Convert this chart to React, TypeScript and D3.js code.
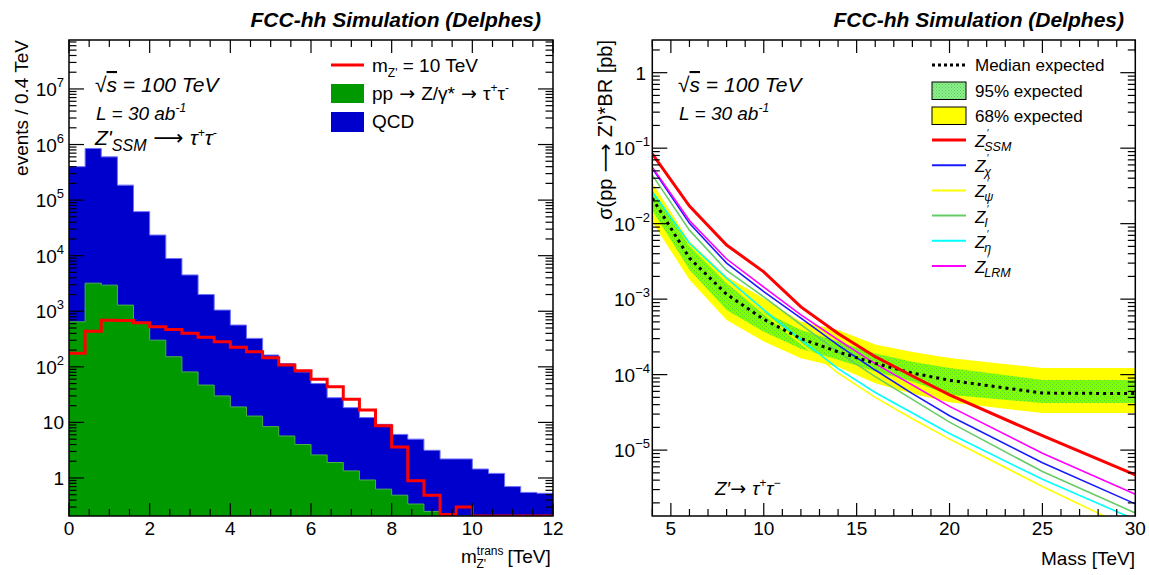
import React from 'react';
import * as d3 from 'd3';

const FONT = '"Liberation Sans", Arimo, Arial, Helvetica, sans-serif';
const ARROW_FONT = '"DejaVu Sans", sans-serif';

// ---------------- Left panel data ----------------
const binWidth = 0.4;
const binStarts = d3.range(30).map((i) => +(i * binWidth).toFixed(1));
const qcdEvents = [399000, 847000, 597000, 184700, 61400, 23200, 8750, 4420, 1950, 1020, 546, 312, 155, 109, 77, 47.4, 25.9, 17.1, 11.3, 8.6, 5.6, 4.66, 2.9, 2.2, 2.2, 1.45, 1.21, 0.7, 0.55, 0.53];
const dyEvents = [646, 3200, 2950, 1290, 630, 302, 152, 81, 47, 30, 19, 13, 8.4, 5.7, 4.0, 2.6, 1.9, 1.34, 0.92, 0.63, 0.49, 0.34, 0.25, 0, 0, 0, 0, 0, 0, 0];
const signalEvents = [175, 436, 690, 680, 620, 525, 470, 400, 340, 283, 225, 187, 145, 108, 85, 60, 44, 26, 16.7, 8.7, 3.6, 0.89, 0.49, 0.22, 0.3, 0, 0, 0, 0, 0];
const leftXTicks = [0, 2, 4, 6, 8, 10, 12];
const leftYLabels = [
  { v: 1, base: '1', exp: '' },
  { v: 10, base: '10', exp: '' },
  { v: 1e2, base: '10', exp: '2' },
  { v: 1e3, base: '10', exp: '3' },
  { v: 1e4, base: '10', exp: '4' },
  { v: 1e5, base: '10', exp: '5' },
  { v: 1e6, base: '10', exp: '6' },
  { v: 1e7, base: '10', exp: '7' },
];

// ---------------- Right panel data ----------------
const massPoints = [4, 6, 8, 10, 12, 14, 16, 18, 20, 25, 30];
const zSSM = [0.084, 0.0171, 0.0052, 0.0023, 7.9e-4, 3.5e-4, 1.73e-4, 9.6e-5, 5.4e-5, 1.55e-5, 4.7e-6];
const zChi = [0.054, 0.0101, 0.003, 0.00126, 5.6e-4, 2.46e-4, 1.15e-4, 5.6e-5, 2.85e-5, 6.8e-6, 1.94e-6];
const zPsi = [0.03, 0.0052, 0.0017, 6.5e-4, 2.6e-4, 1.05e-4, 5.0e-5, 2.6e-5, 1.4e-5, 3.3e-6, 8.5e-7];
const zI = [0.044, 0.0082, 0.0024, 0.00107, 4.6e-4, 2.0e-4, 9.4e-5, 4.7e-5, 2.35e-5, 5.2e-6, 1.47e-6];
const zEta = [0.0265, 0.0055, 0.0019, 7.2e-4, 2.9e-4, 1.2e-4, 5.8e-5, 3.1e-5, 1.66e-5, 4.1e-6, 1.2e-6];
const zLRM = [0.056, 0.011, 0.0034, 0.00144, 6.2e-4, 2.9e-4, 1.4e-4, 7.3e-5, 3.8e-5, 9.1e-6, 2.6e-6];
const medianExp = [0.0217, 0.0035, 0.00116, 5.4e-4, 3.0e-4, 2.0e-4, 1.41e-4, 1.05e-4, 8.4e-5, 5.7e-5, 5.6e-5];
const yellowHi = [0.035, 0.0058, 0.002, 0.00102, 5.0e-4, 3.9e-4, 2.5e-4, 2.0e-4, 1.66e-4, 1.22e-4, 1.22e-4];
const yellowLo = [0.0105, 0.0018, 5.3e-4, 2.75e-4, 1.65e-4, 1.26e-4, 7.7e-5, 5.6e-5, 4.3e-5, 3.1e-5, 3.1e-5];
const greenHi = [0.028, 0.0052, 0.00162, 6.8e-4, 3.9e-4, 2.75e-4, 1.9e-4, 1.48e-4, 1.22e-4, 8.5e-5, 8.5e-5];
const greenLo = [0.015, 0.00245, 7.2e-4, 3.7e-4, 2.2e-4, 1.58e-4, 1.1e-4, 8.1e-5, 5.4e-5, 4.2e-5, 4.2e-5];
const rightXTicks = [5, 10, 15, 20, 25, 30];
const rightYLabels = [
  { v: 1, base: '1', exp: '' },
  { v: 1e-1, base: '10', exp: '\u22121' },
  { v: 1e-2, base: '10', exp: '\u22122' },
  { v: 1e-3, base: '10', exp: '\u22123' },
  { v: 1e-4, base: '10', exp: '\u22124' },
  { v: 1e-5, base: '10', exp: '\u22125' },
];
const modelCurves = [
  { key: 'SSM', sub: 'SSM', values: zSSM, color: '#ff0000', width: 3 },
  { key: 'chi', sub: '\u03c7', values: zChi, color: '#1a1aff', width: 1.6 },
  { key: 'psi', sub: '\u03c8', values: zPsi, color: '#ffff00', width: 1.6 },
  { key: 'I', sub: 'I', values: zI, color: '#66cc66', width: 1.6 },
  { key: 'eta', sub: '\u03b7', values: zEta, color: '#00ffff', width: 1.6 },
  { key: 'LRM', sub: 'LRM', values: zLRM, color: '#ff00ff', width: 1.6 },
];

// ---------------- Layout ----------------
const LP = { x0: 69, x1: 553, y0: 40, y1: 516 };
const RP = { x0: 652.3, x1: 1135.3, y0: 40, y1: 516 };

const lx = d3.scaleLinear().domain([0, 12]).range([LP.x0, LP.x1]);
const ly = d3.scaleLog().domain([0.207, 7.6e7]).range([LP.y1, LP.y0]).clamp(true);
const rx = d3.scaleLinear().domain([4, 30]).range([RP.x0, RP.x1]);
const ry = d3.scaleLog().domain([1.34e-6, 2.71]).range([RP.y1, RP.y0]);

const lySafe = (v: number) => (v > 0 ? ly(v) : LP.y1);

function logTicks(scale: d3.ScaleLogarithmic<number, number>) {
  const [a, b] = scale.domain();
  const out: { v: number; major: boolean }[] = [];
  for (let e = Math.floor(Math.log10(a)); e <= Math.ceil(Math.log10(b)); e++) {
    for (let m = 1; m <= 9; m++) {
      const v = m * Math.pow(10, e);
      if (v >= a * 0.9999 && v <= b * 1.0001) out.push({ v, major: m === 1 });
    }
  }
  return out;
}

function Ticks({ P, xs, ys }: { P: any; xs: { px: number; major: boolean }[]; ys: { py: number; major: boolean }[] }) {
  const segs: JSX.Element[] = [];
  xs.forEach((t, i) => {
    const len = t.major ? 13 : 7;
    segs.push(<line key={'xb' + i} x1={t.px} x2={t.px} y1={P.y1} y2={P.y1 - len} />);
    segs.push(<line key={'xt' + i} x1={t.px} x2={t.px} y1={P.y0} y2={P.y0 + len} />);
  });
  ys.forEach((t, i) => {
    const len = t.major ? 15 : 7.5;
    segs.push(<line key={'yl' + i} x1={P.x0} x2={P.x0 + len} y1={t.py} y2={t.py} />);
    segs.push(<line key={'yr' + i} x1={P.x1} x2={P.x1 - len} y1={t.py} y2={t.py} />);
  });
  return <g stroke="#000" strokeWidth={1.2}>{segs}</g>;
}

const Arrow = () => <tspan fontFamily={ARROW_FONT}>{' \u2192 '}</tspan>;

export default function App() {
  // ----- left histograms -----
  const rows = binStarts.map((x, i) => ({ x, dy: dyEvents[i], qcd: qcdEvents[i] }));
  const stacked = d3.stack<any>().keys(['dy', 'qcd'])(rows);
  const lastX = binStarts[binStarts.length - 1] + binWidth;
  const withEnd = (arr: [number, number][]) => [...arr, [lastX, arr[arr.length - 1][1]] as [number, number]];
  const totalPts = withEnd(stacked[1].map((d, i) => [binStarts[i], d[1]] as [number, number]));
  const dyPts = withEnd(stacked[0].map((d, i) => [binStarts[i], d[1]] as [number, number]));
  const sigPts = withEnd(signalEvents.map((v, i) => [binStarts[i], v] as [number, number]));

  const histArea = d3
    .area<[number, number]>()
    .x((d) => lx(d[0]))
    .y0(LP.y1)
    .y1((d) => lySafe(d[1]))
    .curve(d3.curveStepAfter);
  const histLine = d3
    .line<[number, number]>()
    .x((d) => lx(d[0]))
    .y((d) => lySafe(d[1]))
    .curve(d3.curveStepAfter);

  const leftXt = d3.range(0, 12.001, 0.5).map((v) => ({ px: lx(v), major: Math.abs(v % 2) < 1e-6 }));
  const leftYt = logTicks(ly as any).map((t) => ({ py: ly(t.v), major: t.major }));

  // ----- right -----
  const idx = massPoints.map((_, i) => i);
  const band = (lo: number[], hi: number[]) =>
    d3
      .area<number>()
      .x((i) => rx(massPoints[i]))
      .y0((i) => ry(lo[i]))
      .y1((i) => ry(hi[i]))(idx) as string;
  const curve = (vals: number[]) =>
    d3
      .line<number>()
      .x((i) => rx(massPoints[i]))
      .y((i) => ry(vals[i]))(idx) as string;

  const rightXt = d3.range(4, 30.001, 1).map((v) => ({ px: rx(v), major: v % 5 === 0 }));
  const rightYt = logTicks(ry as any).map((t) => ({ py: ry(t.v), major: t.major }));

  const drawOrder = ['psi', 'eta', 'I', 'chi', 'LRM'];

  return (
    <svg width={1149} height={575} style={{ position: 'absolute', left: 0, top: 0, background: '#fff' }} fontFamily={FONT}>
      <defs>
        <pattern id="bandPat" width="4" height="4" patternUnits="userSpaceOnUse">
          <rect width="4" height="4" fill="#80ff00" />
          <rect x="0" y="0" width="1" height="1" fill="#5ad838" />
          <rect x="2" y="2" width="1" height="1" fill="#5ad838" />
        </pattern>
        <pattern id="legPat" width="3" height="3" patternUnits="userSpaceOnUse">
          <rect width="3" height="3" fill="#8cf08c" />
          <rect x="0" y="0" width="1" height="1" fill="#5cc85c" />
          <rect x="1.5" y="1.5" width="1" height="1" fill="#5cc85c" />
        </pattern>
        <clipPath id="clipL">
          <rect x={LP.x0} y={LP.y0} width={LP.x1 - LP.x0} height={LP.y1 - LP.y0} />
        </clipPath>
        <clipPath id="clipR">
          <rect x={RP.x0} y={RP.y0} width={RP.x1 - RP.x0} height={RP.y1 - RP.y0} />
        </clipPath>
      </defs>

      {/* ================= LEFT PANEL ================= */}
      <g clipPath="url(#clipL)">
        <path d={histArea(totalPts) as string} fill="#0000cc" />
        <path d={histLine(totalPts) as string} fill="none" stroke="#6f6fff" strokeWidth={1} />
        <path d={histArea(dyPts) as string} fill="#009900" />
        <path d={histLine(dyPts) as string} fill="none" stroke="#4cb04c" strokeWidth={1} />
        <path d={histLine(sigPts) as string} fill="none" stroke="#ff0000" strokeWidth={3} />
      </g>
      <Ticks P={LP} xs={leftXt} ys={leftYt} />
      <rect x={LP.x0} y={LP.y0} width={LP.x1 - LP.x0} height={LP.y1 - LP.y0} fill="none" stroke="#000" strokeWidth={1.5} />

      <g fontSize={19} fill="#000">
        {leftXTicks.map((t) => (
          <text key={'lxl' + t} x={lx(t)} y={535} textAnchor="middle">
            {t}
          </text>
        ))}
        {leftYLabels.map((t) => (
          <text key={'lyl' + t.v} x={64} y={ly(t.v) + 7} textAnchor="end">
            {t.base}
            {t.exp && (
              <tspan dy={-9} fontSize={13}>
                {t.exp}
              </tspan>
            )}
          </text>
        ))}
      </g>

      <text x={541} y={27} textAnchor="end" fontSize={21} fontWeight="bold" fontStyle="italic">
        FCC-hh Simulation (Delphes)
      </text>
      <text transform="translate(28,40) rotate(-90)" textAnchor="end" fontSize={19}>
        events / 0.4 TeV
      </text>
      <text x={461} y={563} fontSize={19}>
        m
        <tspan dy={-8} fontSize={12}>trans</tspan>
        <tspan dx={-27} dy={13} fontSize={12}>Z'</tspan>
        <tspan dx={16} dy={-5}> [TeV]</tspan>
      </text>

      <g fontStyle="italic" fill="#000">
        <text x={95} y={92} fontSize={21}>
          √<tspan style={{ textDecoration: 'overline' }}>s</tspan> = 100 TeV
        </text>
        <text x={96} y={120} fontSize={19}>
          L = 30 ab<tspan dy={-8} fontSize={12}>-1</tspan>
        </text>
        <text x={95} y={145} fontSize={21}>
          Z'<tspan dy={6} fontSize={16}>SSM</tspan>
          <tspan dy={-6} fontStyle="normal" fontFamily={ARROW_FONT}>{' \u27f6 '}</tspan>
          <tspan>τ</tspan>
          <tspan dy={-8} fontSize={12}>+</tspan>
          <tspan dy={8}>τ</tspan>
          <tspan dy={-8} fontSize={12}>-</tspan>
        </text>
      </g>

      {/* left legend */}
      <line x1={331} x2={364} y1={65} y2={65} stroke="#ff0000" strokeWidth={3} />
      <rect x={331} y={84} width={33} height={19} fill="#009900" />
      <rect x={331} y={112} width={33} height={20} fill="#0000cc" />
      <g fontSize={19} fill="#000">
        <text x={372} y={72}>
          m<tspan dy={5} fontSize={12}>Z'</tspan>
          <tspan dy={-5}> = 10 TeV</tspan>
        </text>
        <text x={372} y={100}>
          pp<Arrow />Z/γ*<Arrow />τ<tspan dy={-8} fontSize={12}>+</tspan>
          <tspan dy={8}>τ</tspan>
          <tspan dy={-8} fontSize={12}>-</tspan>
        </text>
        <text x={372} y={128}>QCD</text>
      </g>

      {/* ================= RIGHT PANEL ================= */}
      <g clipPath="url(#clipR)">
        <path d={band(yellowLo, yellowHi)} fill="#ffff00" />
        <path d={band(greenLo, greenHi)} fill="url(#bandPat)" />
        {drawOrder.map((k) => {
          const c = modelCurves.find((m) => m.key === k)!;
          return <path key={k} d={curve(c.values)} fill="none" stroke={c.color} strokeWidth={c.width} />;
        })}
        <path d={curve(medianExp)} fill="none" stroke="#000" strokeWidth={3} strokeDasharray="3 4" />
        <path d={curve(zSSM)} fill="none" stroke="#ff0000" strokeWidth={3} />
      </g>
      <Ticks P={RP} xs={rightXt} ys={rightYt} />
      <rect x={RP.x0} y={RP.y0} width={RP.x1 - RP.x0} height={RP.y1 - RP.y0} fill="none" stroke="#000" strokeWidth={1.5} />

      <g fontSize={19} fill="#000">
        {rightXTicks.map((t) => (
          <text key={'rxl' + t} x={rx(t)} y={535} textAnchor="middle">
            {t}
          </text>
        ))}
        {rightYLabels.map((t) => (
          <text key={'ryl' + t.v} x={t.exp ? 650 : 646} y={ry(t.v) + 7} textAnchor="end">
            {t.base}
            {t.exp && (
              <tspan dy={-9} fontSize={13}>
                {t.exp}
              </tspan>
            )}
          </text>
        ))}
      </g>

      <text x={1124} y={27} textAnchor="end" fontSize={21} fontWeight="bold" fontStyle="italic">
        FCC-hh Simulation (Delphes)
      </text>
      <text transform="translate(612,40) rotate(-90)" textAnchor="end" fontSize={20}>
        σ(pp<tspan fontFamily={ARROW_FONT}>{' \u27f6 '}</tspan>Z')*BR [pb]
      </text>
      <text x={1135} y={565} textAnchor="end" fontSize={19}>
        Mass [TeV]
      </text>

      <g fontStyle="italic" fill="#000">
        <text x={678} y={92} fontSize={21}>
          √<tspan style={{ textDecoration: 'overline' }}>s</tspan> = 100 TeV
        </text>
        <text x={679} y={120} fontSize={19}>
          L = 30 ab<tspan dy={-8} fontSize={12}>-1</tspan>
        </text>
        <text x={715} y={495} fontSize={19}>
          Z′<tspan fontStyle="normal" fontFamily={ARROW_FONT}>{'\u2192 '}</tspan>τ<tspan dy={-8} fontSize={12}>+</tspan>
          <tspan dy={8}>τ</tspan>
          <tspan dy={-8} fontSize={12}>−</tspan>
        </text>
      </g>

      {/* right legend */}
      <line x1={932} x2={967} y1={65} y2={65} stroke="#000" strokeWidth={3} strokeDasharray="3 3" />
      <rect x={932} y={82} width={34} height={17.5} fill="url(#legPat)" stroke="#000" strokeWidth={1} />
      <rect x={932} y={107} width={34} height={17.5} fill="#ffff00" stroke="#000" strokeWidth={1} />
      <g fontSize={17} fill="#000">
        <text x={975} y={71}>Median expected</text>
        <text x={975} y={97}>95% expected</text>
        <text x={975} y={122}>68% expected</text>
      </g>
      {modelCurves.map((c, i) => {
        const yy = 140 + i * 25.2;
        return (
          <g key={'leg' + c.key}>
            <line x1={932} x2={966} y1={yy} y2={yy} stroke={c.color} strokeWidth={c.key === 'SSM' ? 3 : 2} />
            <text x={975} y={yy + 7} fontSize={17} fontStyle="italic">
              Z<tspan dx={1} dy={-10} fontSize={10}>′</tspan>
              <tspan dx={-4} dy={14} fontSize={12.5}>{c.sub}</tspan>
            </text>
          </g>
        );
      })}
    </svg>
  );
}
